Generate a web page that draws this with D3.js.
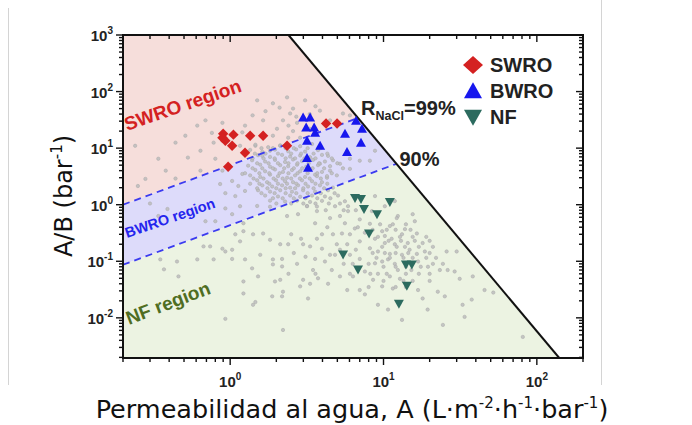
<!DOCTYPE html>
<html>
<head>
<meta charset="utf-8">
<script src="https://cdn.jsdelivr.net/npm/d3@7/dist/d3.min.js"></script>
<style>
  body { margin: 0; background: #fff; }
  svg { display: block; }
</style>
</head>
<body>
<div id="chart"></div>
<script>
// membranes: [A (L m-2 h-1 bar-1), A/B (bar-1)]
const swroPoints = [
  [0.90, 18.0], [1.05, 17.3], [0.93, 13.5], [1.03, 11.0], [1.25, 8.3], [1.35, 16.6],
  [1.64, 16.6], [2.35, 11.0], [0.97, 4.7], [4.22, 27.2], [4.98, 27.2], [0.89, 15.3]
];
const bwroPoints = [
  [2.99, 34.7], [3.32, 34.7], [3.13, 23.1], [3.53, 23.1], [3.58, 18.8], [3.17, 13.5],
  [3.86, 11.0], [3.17, 6.7], [3.22, 4.5], [5.61, 18.0], [5.78, 8.6], [6.62, 30.7],
  [7.24, 22.1], [7.13, 12.5]
];
const nfPoints = [
  [6.52, 1.31], [7.13, 1.26], [7.46, 0.835], [9.07, 0.68], [11.0, 1.11], [8.05, 0.31],
  [5.45, 0.132], [6.82, 0.0715], [14.0, 0.0877], [15.3, 0.0877], [14.2, 0.037], [12.6, 0.0177]
];
// literature membranes (grey cloud)
const otherPoints = [
  [0.61,25],[0.69,31],[0.24,11],[0.34,6.5],[0.44,12.5],[0.53,6.8],[0.8,6.5],[0.76,18.6],
  [0.78,12.5],[1.16,11],[0.89,28],[1.5,70],[1.9,62],[2.35,79],[2.57,50],[2.46,41],
  [1.64,31],[2.21,31],[2.73,28],[2.02,22],[2.57,20],[1.9,16.6],[2.39,15.3],[2.86,15.3],
  [4.48,31],[5.44,41],[6.04,38],[1.82,9],[1.46,11],[1.62,7.3],[2.12,11],[3.08,70],
  [3.85,46],[1.25,25],[0.64,9],[0.38,4],[0.51,16.6],
  [1.7,45],[2.1,52],[2.7,36],[3.3,40],[1.4,38],[2.4,25],[3.3,22],[1.2,19],[3.6,55],
  [0.28,2.86],[0.25,2.14],[0.44,2.9],[0.64,4],[0.86,2.32],[1.03,2.63],[1.13,2.14],[1.2,3.5],
  [1.25,1.75],[0.93,1.6],[1.08,1.42],[0.89,4],[0.3,1.05],[0.39,0.84],[0.34,0.63],[0.93,0.86],
  [1.16,0.94],[1.03,0.68],[0.8,0.51],[0.69,0.51],[1.22,0.47],[5.2,5.3],[6.04,6.5],[7.0,6.0],
  [6.04,4.3],[4.35,7.3],[3.85,5.3],[3.68,3.2],[4.48,4],[8.15,6],[8.8,9],[4.28,3.0],[4.96,3.3],
  [4.68,6.1],[5.44,4.4],
  [1.46,11.5],[1.77,10.4],[2.12,11.2],[2.86,10.8],[3.42,11.8],
  [1.35,9.3],[1.62,8.6],[1.96,9.4],[2.39,8.8],[2.69,9.5],[3.08,8.7],[3.74,9.2],
  [1.52,7.5],[1.82,7.0],[2.18,7.6],[2.46,7.1],[2.86,7.4],[3.32,6.9],[3.97,7.6],
  [1.39,6.1],[1.69,5.8],[1.96,6.2],[2.28,5.7],[2.57,6.3],[2.94,5.9],[3.47,6.2],[4.15,5.8],
  [1.31,4.9],[1.57,5.1],[1.82,4.7],[2.12,5.0],[2.39,4.8],[2.73,5.1],[3.13,4.7],[3.74,5.0],[4.48,4.8],
  [1.46,4.1],[1.69,3.9],[1.96,4.2],[2.21,3.8],[2.53,4.1],[2.86,3.9],[3.32,4.2],[3.97,3.8],
  [1.35,3.3],[1.57,3.1],[1.82,3.4],[2.05,3.2],[2.35,3.0],[2.65,3.3],[3.08,3.1],[3.58,3.4],[4.28,3.2],
  [1.50,2.7],[1.74,2.5],[1.99,2.7],[2.28,2.6],[2.57,2.5],[2.94,2.7],[3.42,2.6],[3.97,2.5],
  [1.62,2.2],[1.88,2.1],[2.18,2.2],[2.46,2.0],[2.77,2.2],[3.22,2.1],[3.85,2.2],[4.68,2.0],
  [1.52,1.8],[1.82,1.7],[2.12,1.8],[2.53,1.7],[2.99,1.8],[3.58,1.7],[4.35,1.8],
  [1.69,1.45],[2.05,1.4],[2.46,1.45],[2.86,1.38],[3.42,1.45],[4.15,1.4],[5.05,1.45],
  [1.82,1.18],[2.28,1.14],[2.73,1.18],[3.32,1.12],[3.97,1.17],[5.6,1.15],
  [1.5,0.95],[1.82,0.92],[3.17,0.95],[3.68,0.93],[5.87,0.94],
  [1.6,10],[1.9,10],[2.3,10],[2.6,10],[3.2,10],[3.9,10],
  [1.45,8],[1.7,8],[2.05,8],[2.5,8],[2.9,8],[3.5,8],[4.3,8],
  [1.4,6.6],[1.65,6.6],[1.95,6.6],[2.3,6.6],[2.65,6.6],[3.05,6.6],[3.6,6.6],[4.6,6.6],
  [1.5,5.4],[1.78,5.4],[2.05,5.4],[2.4,5.4],[2.75,5.4],[3.25,5.4],[3.8,5.4],[5.0,5.4],
  [1.4,4.4],[1.62,4.4],[1.9,4.4],[2.25,4.4],[2.6,4.4],[2.95,4.4],[3.45,4.4],[4.1,4.4],
  [1.25,3.6],[1.55,3.6],[1.8,3.6],[2.1,3.6],[2.4,3.6],[2.75,3.6],[3.2,3.6],[3.7,3.6],[4.6,3.6],
  [1.42,2.9],[1.65,2.9],[1.92,2.9],[2.2,2.9],[2.5,2.9],[2.85,2.9],[3.3,2.9],[3.9,2.9],
  [1.35,2.35],[1.55,2.35],[1.8,2.35],[2.05,2.35],[2.35,2.35],[2.7,2.35],[3.1,2.35],[3.6,2.35],[4.3,2.35],
  [1.5,1.95],[1.75,1.95],[2.0,1.95],[2.3,1.95],[2.65,1.95],[3.0,1.95],[3.5,1.95],[4.1,1.95],
  [1.6,1.6],[1.95,1.6],[2.3,1.6],[2.7,1.6],[3.2,1.6],[3.9,1.6],[4.8,1.6],
  [1.9,1.3],[2.2,1.3],[2.6,1.3],[3.1,1.3],[3.7,1.3],[4.5,1.3],
  [2.0,1.05],[2.5,1.05],[3.0,1.05],[3.6,1.05],[4.4,1.05],[5.2,1.05],
  [0.35,0.108],[0.45,0.099],[0.61,0.108],[0.78,0.108],[1.03,0.11],[1.25,0.108],[0.67,0.183],
  [0.74,0.183],[0.89,0.167],[0.93,0.149],[1.03,0.16],[1.16,0.225],[1.08,0.3],[1.22,0.34],
  [0.37,0.072],[0.46,0.054],[1.22,0.044],[1.22,0.027],[0.93,0.0096],
  [1.41,0.3],[1.64,0.31],[1.82,0.24],[2.12,0.2],[2.39,0.2],[1.57,0.13],[1.9,0.108],[1.9,0.088],
  [2.18,0.11],[2.18,0.081],[2.73,0.09],[2.99,0.2],[3.32,0.183],[3.68,0.25],[3.97,0.167],
  [3.58,0.11],[3.47,0.07],[3.74,0.05],[2.99,0.047],[3.32,0.04],[2.86,0.036],[2.12,0.047],
  [1.96,0.044],[2.21,0.029],[2.18,0.024],[1.88,0.024],[1.41,0.017],[3.22,0.022],[4.35,0.04],
  [4.15,0.099],[4.48,0.13],[4.6,0.07],[5.2,0.054],[6.04,0.06],[5.8,0.031],[7.0,0.031],
  [7.56,0.026],[2.21,0.0061],
  [2.5,0.3],[2.9,0.25],[2.6,0.14],[3.1,0.12],[2.4,0.06],[3.6,0.06],
  [2.35,0.63],[2.77,0.68],[3.17,0.94],[3.68,0.77],[4.48,0.58],[5.2,0.63],[5.87,0.77],
  [3.58,0.47],[4.68,0.3],[3.97,0.3],[5.36,0.31],[6.04,0.3],[4.96,0.2],[5.8,0.2],[4.83,0.13],
  [6.04,0.13],[7.0,0.225],[8.15,0.17],[7.0,0.11],[7.56,0.066],[6.32,0.054],[8.55,0.047],
  [8.15,0.46],[7.0,0.55],[1.39,0.075],[1.52,0.054],[1.46,0.019],
  [4.2,0.8],[5.5,0.8],[6.6,0.8],[4.3,0.4],[6.8,0.4],[5.2,0.16],[6.6,0.16],[5.5,0.09],[6.3,0.09],[8,0.09],
  [12.4,0.63],[16,0.51],[11,0.42],[13.2,0.3],[16.5,0.31],[9.8,0.34],[10.2,0.21],[11.85,0.2],
  [14.4,0.21],[18,0.21],[9.2,0.149],[11,0.135],[13.2,0.13],[16.5,0.135],[18.6,0.149],
  [9.8,0.099],[11.85,0.09],[16.8,0.099],[21,0.09],[24.4,0.09],[25.8,0.149],[30,0.149],
  [20,0.06],[23.3,0.07],[26.2,0.07],[29.1,0.066],[31.4,0.049],[38.2,0.054],[45.6,0.031],
  [9.2,0.06],[11,0.054],[12.8,0.049],[9.8,0.036],[11.5,0.033],[16.8,0.031],[18,0.022],
  [22.6,0.029],[25.1,0.024],[37.6,0.021],[9.2,0.017],[10.7,0.014],[19.4,0.014],[32.8,0.017],
  [33.8,0.0104],[13.2,0.0092],[24.4,0.0075],[15.5,0.68],[12.2,0.58],[52,0.028],[81,0.0046],
  [10.2,0.28],[11.3,0.25],[13.8,0.37],[14.8,0.16],[8.8,0.25],[10.7,0.108],[15.2,0.07],
  [12.4,0.07],[8.8,0.092],[4.83,0.94],[5.6,0.47],[6.5,0.38],[7.56,0.32],[8.4,0.77],
  [8.8,1.42],[10.2,0.94],[11.85,1.16],
  [9.5,0.45],[11.5,0.45],[14,0.45],[8.5,0.36],[10.5,0.36],[12,0.36],[15,0.36],
  [9.2,0.27],[12.8,0.27],[15.5,0.27],[19,0.27],[10.8,0.23],[13,0.23],[16,0.23],[20,0.23],
  [9.8,0.18],[12.2,0.18],[13.8,0.18],[17,0.18],[21,0.18],[8.5,0.14],[10.2,0.14],[12,0.14],
  [14.5,0.14],[20,0.14],[9,0.115],[11,0.115],[13.5,0.115],[15.5,0.115],[19,0.115],[22,0.115],
  [10,0.08],[12,0.08],[14,0.08],[17.5,0.08],[19.5,0.08],[8.2,0.06],[10.5,0.06],[14,0.06],
  [17,0.06],[10,0.045],[13.5,0.045],[15.5,0.045],[20,0.045],[8,0.035],[12,0.035],[14,0.035]
];

// region boundaries: salt permeability B of the two dashed lines, and the limit line
const regionB = [0.2, 2.3];
const limitLine = [[2.4, 1000], [140, 0.00195]];

const legendItems = ["SWRO", "BWRO", "NF"];
const xTickExps = ["0", "1", "2"];
const yTickExps = ["3", "2", "1", "0", "-1", "-2"];

const colors = { SWRO: "#d42121", BWRO: "#1717ee", NF: "#2c6b5f" };

const width = 692, height = 425;
const plot = { left: 123, right: 583, top: 35, bottom: 358 };

const svg = d3.select("#chart").append("svg")
  .attr("width", width).attr("height", height)
  .attr("font-family", "'Liberation Sans', Arial, sans-serif");

// screenshot edges
svg.append("line").attr("x1", 8.5).attr("x2", 8.5).attr("y1", 8).attr("y2", 385)
  .attr("stroke", "#d4d4d4").attr("stroke-width", 1);
svg.append("line").attr("x1", 601.5).attr("x2", 601.5).attr("y1", 0).attr("y2", 385)
  .attr("stroke", "#d4d4d4").attr("stroke-width", 1);

const x = d3.scaleLog().domain([0.2, 200]).range([plot.left, plot.right]);
const y = d3.scaleLog().domain([limitLine[1][1], 1000]).range([plot.bottom, plot.top]);

const [xMin] = x.domain();
const [yMin, yMax] = y.domain();

// intersection of A/B = A/B0 with the limit line, in log space
const lx1 = Math.log10(limitLine[0][0]), ly1 = Math.log10(limitLine[0][1]);
const lx2 = Math.log10(limitLine[1][0]), ly2 = Math.log10(limitLine[1][1]);
const slope = (ly2 - ly1) / (lx2 - lx1);
function meetLimit(b) {
  const u = (ly1 - slope * lx1 + Math.log10(b)) / (1 - slope);
  return [Math.pow(10, u), Math.pow(10, u) / b];
}
const hiMeet = meetLimit(regionB[0]);
const loMeet = meetLimit(regionB[1]);

const line = d3.line().x(d => x(d[0])).y(d => y(d[1]));

svg.append("clipPath").attr("id", "plotClip").append("rect")
  .attr("x", plot.left).attr("y", plot.top)
  .attr("width", plot.right - plot.left).attr("height", plot.bottom - plot.top);

const area = svg.append("g").attr("clip-path", "url(#plotClip)");

area.append("path")
  .attr("d", line([[xMin, xMin / regionB[0]], [xMin, yMax], limitLine[0], hiMeet]) + "Z")
  .attr("fill", "#f6dedb");
area.append("path")
  .attr("d", line([[xMin, xMin / regionB[0]], hiMeet, loMeet, [xMin, xMin / regionB[1]]]) + "Z")
  .attr("fill", "#dddbfa");
area.append("path")
  .attr("d", line([[xMin, xMin / regionB[1]], loMeet, limitLine[1], [xMin, yMin]]) + "Z")
  .attr("fill", "#ecf3e2");

area.selectAll(".other").data(otherPoints).enter().append("circle")
  .attr("class", "other")
  .attr("cx", d => x(d[0])).attr("cy", d => y(d[1]))
  .attr("r", 1.7)
  .attr("fill", "#bcbcbc").attr("stroke", "#a8a8a8").attr("stroke-width", 0.5)
  .attr("fill-opacity", 0.85);

regionB.forEach((b, i) => {
  area.append("path")
    .attr("d", line([[xMin, xMin / b], i === 0 ? hiMeet : loMeet]))
    .attr("fill", "none").attr("stroke", "#3b3bf0")
    .attr("stroke-width", 1.8).attr("stroke-dasharray", "7,5");
});

area.append("path").attr("d", line(limitLine))
  .attr("fill", "none").attr("stroke", "#111").attr("stroke-width", 2);

function diamond(cx, cy, w, h) {
  return `M${cx},${cy - h}L${cx + w},${cy}L${cx},${cy + h}L${cx - w},${cy}Z`;
}
function triUp(cx, cy, w, h) {
  return `M${cx},${cy - h * 0.55}L${cx + w},${cy + h * 0.45}L${cx - w},${cy + h * 0.45}Z`;
}
function triDown(cx, cy, w, h) {
  return `M${cx},${cy + h * 0.55}L${cx + w},${cy - h * 0.45}L${cx - w},${cy - h * 0.45}Z`;
}

area.selectAll(".swro").data(swroPoints).enter().append("path")
  .attr("d", d => diamond(x(d[0]), y(d[1]), 5.2, 5.2)).attr("fill", colors.SWRO);
area.selectAll(".bwro").data(bwroPoints).enter().append("path")
  .attr("d", d => triUp(x(d[0]), y(d[1]), 5, 9)).attr("fill", colors.BWRO);
area.selectAll(".nf").data(nfPoints).enter().append("path")
  .attr("d", d => triDown(x(d[0]), y(d[1]), 5, 9)).attr("fill", colors.NF);

// region labels
function regionLabel(txt, px, py, angle, size, color) {
  svg.append("text")
    .attr("transform", `translate(${px},${py}) rotate(${angle})`)
    .attr("font-size", size).attr("font-weight", "bold").attr("fill", color)
    .text(txt);
}
regionLabel("SWRO region", 127, 131, -19, 19, "#d42121");
regionLabel("BWRO region", 127, 238, -19, 14.5, "#2525ee");
regionLabel("NF region", 129, 325, -21, 19, "#4f6d22");

// rejection labels
const r99 = svg.append("text")
  .attr("x", x(hiMeet[0]) + 3).attr("y", y(hiMeet[1]) - 3)
  .attr("font-size", 20).attr("font-weight", "bold").attr("fill", "#222");
r99.append("tspan").text("R");
r99.append("tspan").attr("font-size", 12.5).attr("dy", 5).text("NaCl");
r99.append("tspan").attr("dy", -5).text("=99%");

svg.append("text")
  .attr("x", x(loMeet[0]) + 3).attr("y", y(loMeet[1]) + 2)
  .attr("font-size", 20).attr("font-weight", "bold").attr("fill", "#222")
  .text("90%");

// frame and ticks
svg.append("rect")
  .attr("x", plot.left).attr("y", plot.top)
  .attr("width", plot.right - plot.left).attr("height", plot.bottom - plot.top)
  .attr("fill", "none").attr("stroke", "#111").attr("stroke-width", 2);

const isMajor = v => Math.abs(Math.log10(v) - Math.round(Math.log10(v))) < 1e-6;
const ticks = svg.append("g").attr("stroke", "#111").attr("stroke-width", 1.4);

x.ticks().forEach(v => {
  const px = x(v), len = isMajor(v) ? 7 : 4;
  ticks.append("line").attr("x1", px).attr("x2", px)
    .attr("y1", plot.bottom).attr("y2", plot.bottom + len);
  ticks.append("line").attr("x1", px).attr("x2", px)
    .attr("y1", plot.top).attr("y2", plot.top + len);
});
y.ticks().filter(v => v >= yMin).forEach(v => {
  const py = y(v), len = isMajor(v) ? 7 : 4;
  ticks.append("line").attr("y1", py).attr("y2", py)
    .attr("x1", plot.left).attr("x2", plot.left - len);
  ticks.append("line").attr("y1", py).attr("y2", py)
    .attr("x1", plot.right).attr("x2", plot.right - len);
});

function powerLabel(sel, exp) {
  sel.append("tspan").text("10");
  sel.append("tspan").attr("font-size", 10).attr("dy", -7).text(exp);
}

xTickExps.forEach(e => {
  const t = svg.append("text")
    .attr("x", x(Math.pow(10, +e))).attr("y", 387)
    .attr("text-anchor", "middle")
    .attr("font-size", 15).attr("font-weight", "bold").attr("fill", "#222");
  powerLabel(t, e);
});
yTickExps.forEach(e => {
  const t = svg.append("text")
    .attr("x", 113).attr("y", y(Math.pow(10, +e)) + 6)
    .attr("text-anchor", "end")
    .attr("font-size", 15).attr("font-weight", "bold").attr("fill", "#222");
  powerLabel(t, e);
});

// legend
legendItems.forEach((name, i) => {
  const cy = 65 + i * 26;
  const shape = i === 0 ? diamond(473, cy, 10, 9) : i === 1 ? triUp(473, cy, 9, 16) : triDown(473, cy, 9, 16);
  svg.append("path").attr("d", shape).attr("fill", colors[name]);
  svg.append("text").attr("x", 490).attr("y", cy + 7)
    .attr("font-size", 20).attr("font-weight", "bold").attr("fill", "#222")
    .text(name);
});

// axis titles
const xt = svg.append("text")
  .attr("x", 352).attr("y", 418).attr("text-anchor", "middle")
  .attr("font-family", "'DejaVu Sans', sans-serif").attr("font-size", 25.5).attr("fill", "#111");
xt.append("tspan").text("Permeabilidad al agua, A (L·m");
xt.append("tspan").attr("font-size", 15).attr("dy", -10).text("-2");
xt.append("tspan").attr("dy", 10).text("·h");
xt.append("tspan").attr("font-size", 15).attr("dy", -10).text("-1");
xt.append("tspan").attr("dy", 10).text("·bar");
xt.append("tspan").attr("font-size", 15).attr("dy", -10).text("-1");
xt.append("tspan").attr("dy", 10).text(")");

const yt = svg.append("text")
  .attr("transform", "translate(72,196) rotate(-90)").attr("text-anchor", "middle")
  .attr("font-family", "'DejaVu Sans', sans-serif").attr("font-size", 24).attr("fill", "#111");
yt.append("tspan").text("A/B (bar");
yt.append("tspan").attr("font-size", 15).attr("dy", -10).text("-1");
yt.append("tspan").attr("dy", 10).text(")");
</script>
</body>
</html>
